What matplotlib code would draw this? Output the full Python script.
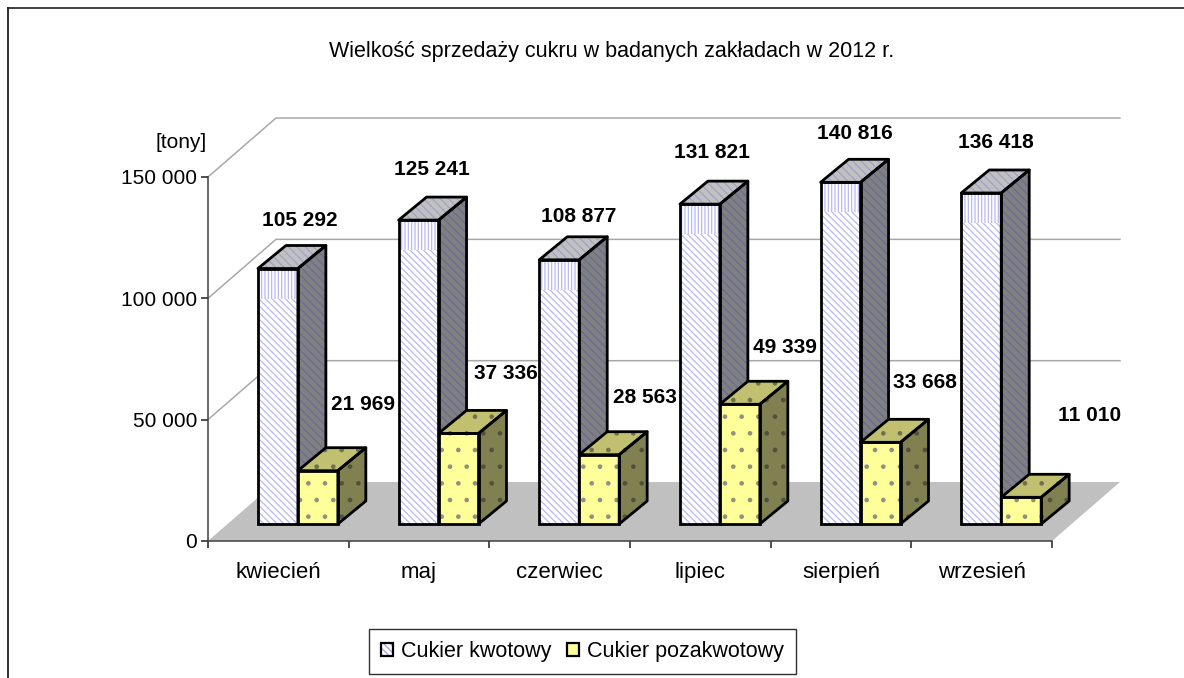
import matplotlib
matplotlib.use('Agg')
import matplotlib.pyplot as plt
from matplotlib.legend_handler import HandlerTuple
from matplotlib.lines import Line2D
from matplotlib.patches import Patch, Polygon

plt.rcParams['font.family'] = ['Liberation Sans', 'DejaVu Sans']
plt.rcParams['hatch.linewidth'] = 0.9

months = ['kwiecień', 'maj', 'czerwiec', 'lipiec', 'sierpień', 'wrzesień']
kwotowy = [105292, 125241, 108877, 131821, 140816, 136418]
pozakwotowy = [21969, 37336, 28563, 49339, 33668, 11010]
series_names = ['Cukier kwotowy', 'Cukier pozakwotowy']
y_ticks = [0, 50000, 100000, 150000]

W, H = 1184, 678
# label shifts in pixels from the front top left corner of each bar
blue_shift = [(42, 48), (33, 51), (39, 43), (32, 52), (34, 49), (35, 50)]
yellow_shift = [(65, 66), (67, 60), (66, 57), (65, 57), (64, 60), (88, 82)]

# oblique depth in data units
WALL_X, WALL_Y = 0.483, 24300
BAR_X, BAR_Y = 0.199, 9480
BASE_X, BASE_Y = 0.355, 7000
BAR_W = 0.284


def fmt(v):
    return f'{v:,}'.replace(',', ' ')


def face(ax, pts, color, hatch=None, hatch_color=None, outline=True, z=3):
    if hatch:
        ax.add_patch(Polygon(pts, facecolor=color, edgecolor=hatch_color, hatch=hatch,
                             lw=0, zorder=z, clip_on=False))
    else:
        ax.add_patch(Polygon(pts, facecolor=color, edgecolor='none', zorder=z, clip_on=False))
    if outline:
        ax.add_patch(Polygon(pts, fill=False, edgecolor='black', lw=2.0, zorder=z + 0.1,
                             joinstyle='round', clip_on=False))


def box(ax, x0, v, colors, hatches, hatch_colors, z):
    x1 = x0 + BAR_W
    y0 = BASE_Y
    y1 = BASE_Y + v
    top = [(x0, y1), (x1, y1), (x1 + BAR_X, y1 + BAR_Y), (x0 + BAR_X, y1 + BAR_Y)]
    side = [(x1, y0), (x1 + BAR_X, y0 + BAR_Y), (x1 + BAR_X, y1 + BAR_Y), (x1, y1)]
    front = [(x0, y0), (x1, y0), (x1, y1), (x0, y1)]
    face(ax, side, colors[1], hatches[1], hatch_colors[1], z=z)
    face(ax, top, colors[2], hatches[2], hatch_colors[2], z=z)
    face(ax, front, colors[0], hatches[0], hatch_colors[0], outline=False, z=z)
    return front


fig = plt.figure(figsize=(W / 100, H / 100), dpi=100, facecolor='white')
ax = fig.add_axes([208 / W, 1 - 541 / H, (1052 - 208) / W, (541 - 177) / H])
ax.set_xlim(0, 6)
ax.set_ylim(0, 150000)
ax.patch.set_visible(False)

# floor and back wall
face(ax, [(0, 0), (WALL_X, WALL_Y), (6 + WALL_X, WALL_Y), (6, 0)], '#c0c0c0', outline=False, z=1)
for t in y_ticks[1:]:
    ax.plot([0, WALL_X, 6 + WALL_X], [t, t + WALL_Y, t + WALL_Y], color='#a8a8a8', lw=1.1,
            zorder=1, clip_on=False)

blue_colors = ['white', '#808080', '#c0c0c0']
blue_hatch = ['\\\\\\\\\\', '\\\\\\\\', '\\\\\\\\']
blue_hatch_c = ['#b8b8f4', '#6a6a9c', '#a0a0cc']
yellow_colors = ['#ffff99', '#808050', '#c0c070']
yellow_hatch = ['.', '.', '.']
yellow_hatch_c = ['#909080', '#505040', '#707050']

for i in range(len(months)):
    x0 = i + BASE_X
    z = 3 + i
    f = box(ax, x0, kwotowy[i], blue_colors, blue_hatch, blue_hatch_c, z)
    # upper part of the front face has a vertical pattern
    strip = min(12400, kwotowy[i])
    y1 = BASE_Y + kwotowy[i]
    upper = [(x0, y1 - strip), (x0 + BAR_W, y1 - strip), (x0 + BAR_W, y1), (x0, y1)]
    ax.add_patch(Polygon(upper, facecolor='white', edgecolor='none', zorder=z + 0.02, clip_on=False))
    ax.add_patch(Polygon(upper, facecolor='white', edgecolor='#b8b8f4', hatch='|||||', lw=0,
                         zorder=z + 0.03, clip_on=False))
    ax.add_patch(Polygon(f, fill=False, edgecolor='black', lw=2.0, zorder=z + 0.1, clip_on=False))
    g = box(ax, x0 + BAR_W, pozakwotowy[i], yellow_colors, yellow_hatch, yellow_hatch_c, z + 0.2)
    ax.add_patch(Polygon(g, fill=False, edgecolor='black', lw=2.0, zorder=z + 0.4, clip_on=False))

    ax.annotate(fmt(kwotowy[i]), (x0, y1), xytext=blue_shift[i], textcoords='offset pixels',
                ha='center', va='center', fontsize=15, fontweight='bold', zorder=20,
                annotation_clip=False)
    ax.annotate(fmt(pozakwotowy[i]), (x0 + BAR_W, BASE_Y + pozakwotowy[i]), xytext=yellow_shift[i],
                textcoords='offset pixels', ha='center', va='center', fontsize=15, fontweight='bold',
                zorder=20, annotation_clip=False)

for s in ['top', 'right']:
    ax.spines[s].set_visible(False)
for s in ['left', 'bottom']:
    ax.spines[s].set_color('#404040')
    ax.spines[s].set_linewidth(1.1)

ax.set_yticks(y_ticks)
ax.set_yticklabels([fmt(t) for t in y_ticks], fontsize=15)
ax.tick_params(axis='y', length=5, width=1.1, color='#202020', pad=3)
ax.set_xticks(range(7))
ax.set_xticklabels([])
ax.tick_params(axis='x', length=5, width=1.1, color='#202020')
ax.set_xticks([i + 0.5 for i in range(6)], minor=True)
ax.set_xticklabels(months, minor=True, fontsize=16)
ax.tick_params(axis='x', which='minor', length=0, pad=15)

fig.text(181 / W, 1 - 142 / H, '[tony]', ha='center', va='center', fontsize=15)
fig.text(612 / W, 1 - 51 / H, 'Wielkość sprzedaży cukru w badanych zakładach w 2012 r.',
         ha='center', va='center', fontsize=15.5)

handles = [(Patch(facecolor='white', edgecolor='#a0a0e8', hatch='\\\\\\\\\\', lw=0),
            Patch(fill=False, edgecolor='black', lw=1.6)),
           (Patch(facecolor='#ffff99', edgecolor='none'),
            Patch(fill=False, edgecolor='black', lw=1.6))]
fig.legend(handles, series_names, handler_map={tuple: HandlerTuple(ndivide=1, pad=0)},
           loc='center', bbox_to_anchor=(582.5 / W, 1 - 651.5 / H),
           ncol=2, fontsize=15.5, frameon=True, fancybox=False, edgecolor='#303030', framealpha=1,
           handlelength=0.55, handleheight=0.55, handletextpad=0.4, columnspacing=0.7,
           borderpad=0.55, borderaxespad=0)

# chart area frame: only the top and left edges are inside the picture
fig.add_artist(Line2D([7.5 / W, 1], [1 - 7.5 / H, 1 - 7.5 / H], color='#303030', lw=1.3,
                      transform=fig.transFigure))
fig.add_artist(Line2D([7.5 / W, 7.5 / W], [0, 1 - 7.5 / H], color='#202020', lw=1.3,
                      transform=fig.transFigure))

fig.savefig('out.png', dpi=100, facecolor='white')
